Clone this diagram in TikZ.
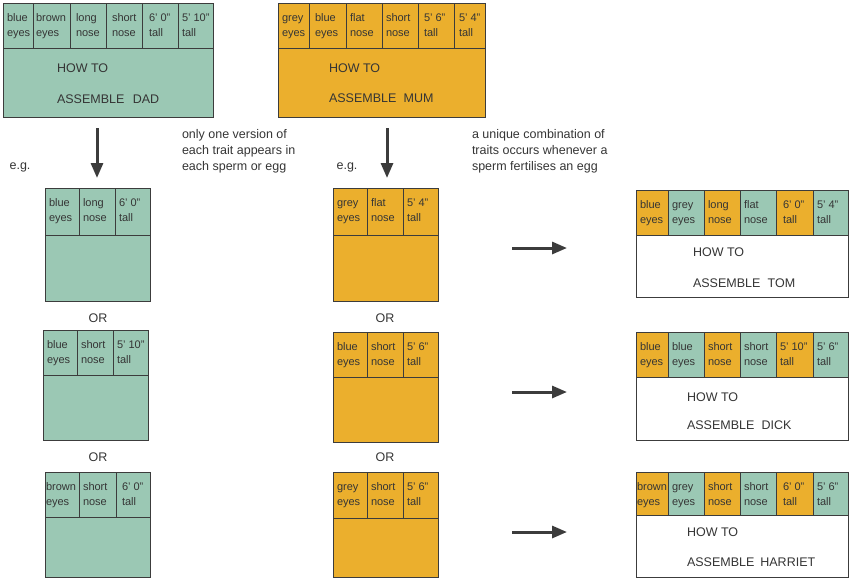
\documentclass[tikz,border=0pt]{standalone}
\usepackage{fontspec}
\setmainfont{Liberation Sans}
\usetikzlibrary{arrows.meta}
\definecolor{gr}{HTML}{9BC8B4}
\definecolor{og}{HTML}{EBAF2D}
\definecolor{edge}{HTML}{3C3C3C}
\definecolor{txt}{HTML}{353535}
\tikzset{
  frame/.style={draw=edge, line width=1pt, inner sep=0pt, outer sep=0pt, rectangle},
  celltxt/.style={anchor=base west, inner sep=0pt, outer sep=0pt, text=txt, font=\fontsize{11}{13}\selectfont},
  big/.style={inner sep=0pt, outer sep=0pt, text=txt, font=\fontsize{12.5}{16}\selectfont},
  para/.style={big, align=left, anchor=north west},
  bigarrow/.style={draw=edge, line width=3pt, -{Triangle[length=15pt,width=12pt]}},
}
% frame: name x1 y1 x2 y2 fill
\newcommand{\gframe}[6]{%
  \node[frame, fill=#6, minimum width={#4pt-#2pt}, minimum height={#5pt-#3pt}, anchor=north west] (#1) at (#2,#3) {};}
% cell: [inset] name x1 x2 y1 y2 fill line1 line2
\newcommand{\gcell}[9][4]{%
  \node[frame, fill=#7, minimum width={#4pt-#3pt}, minimum height={#6pt-#5pt}, anchor=north west] (#2) at (#3,#5) {};
  \node[celltxt] (#2-a) at ([xshift=#1pt,yshift=-18pt]#2.north west) {#8};
  \node[celltxt] (#2-b) at ([xshift=#1pt,yshift=-33pt]#2.north west) {#9};}
\begin{document}
\begin{tikzpicture}[x=1pt,y=-1pt]
\useasboundingbox (0,0) rectangle (850,579);
% ---------------- DAD
\gframe{dad}{3}{3}{213}{117}{gr}
\gcell{dad1}{3}{33}{3}{48}{gr}{blue}{eyes}
\gcell[3]{dad2}{33}{70}{3}{48}{gr}{brown}{eyes}
\gcell[6]{dad3}{70}{106}{3}{48}{gr}{long}{nose}
\gcell[6]{dad4}{106}{142}{3}{48}{gr}{short}{nose}
\gcell[7]{dad5}{142}{178}{3}{48}{gr}{6' 0"}{tall}
\gcell{dad6}{178}{213}{3}{48}{gr}{5' 10"}{tall}
\node[big, anchor=west] (dadh) at (57,68) {HOW TO};
\node[big, anchor=west] (dadn) at (57,99) {ASSEMBLE\hspace{0.4em} DAD};
% ---------------- MUM
\gframe{mum}{278}{3}{485}{117}{og}
\gcell{mum1}{278}{309}{3}{48}{og}{grey}{eyes}
\gcell[6]{mum2}{309}{346}{3}{48}{og}{blue}{eyes}
\gcell{mum3}{346}{382}{3}{48}{og}{flat}{nose}
\gcell{mum4}{382}{418}{3}{48}{og}{short}{nose}
\gcell[6]{mum5}{418}{454}{3}{48}{og}{5' 6"}{tall}
\gcell[5]{mum6}{454}{485}{3}{48}{og}{5' 4"}{tall}
\node[big, anchor=west] (mumh) at (329,68) {HOW TO};
\node[big, anchor=west] (mumn) at (329,98) {ASSEMBLE\hspace{0.3em} MUM};
% ---------------- arrows down and notes
\coordinate (da1) at (97,128); \coordinate (da2) at (97,178);
\coordinate (ma1) at (387,128); \coordinate (ma2) at (387,178);
\draw[bigarrow] (da1) -- (da2);
\draw[bigarrow] (ma1) -- (ma2);
\node[big] (eg1) at (20,167) {e.g.};
\node[big] (eg2) at (347,167) {e.g.};
\node[para] (note1) at (182,129) {only one version of\\each trait appears in\\each sperm or egg};
\node[para] (note2) at (472,129) {a unique combination of\\traits occurs whenever a\\sperm fertilises an egg};
% ---------------- DAD gametes
\gframe{dg1}{45}{188}{150}{301}{gr}
\gcell{dg1a}{45}{79}{188}{235}{gr}{blue}{eyes}
\gcell{dg1b}{79}{115}{188}{235}{gr}{long}{nose}
\gcell{dg1c}{115}{150}{188}{235}{gr}{6' 0"}{tall}
\node[big] (or1) at (98,318) {OR};
\gframe{dg2}{43}{330}{148}{440}{gr}
\gcell{dg2a}{43}{77}{330}{375}{gr}{blue}{eyes}
\gcell{dg2b}{77}{113}{330}{375}{gr}{short}{nose}
\gcell{dg2c}{113}{148}{330}{375}{gr}{5' 10"}{tall}
\node[big] (or2) at (98,457) {OR};
\gframe{dg3}{45}{472}{150}{577}{gr}
\gcell[1]{dg3a}{45}{79}{472}{517}{gr}{brown}{eyes}
\gcell{dg3b}{79}{116}{472}{517}{gr}{short}{nose}
\gcell[6]{dg3c}{116}{150}{472}{517}{gr}{6' 0"}{tall}
% ---------------- MUM gametes
\gframe{mg1}{333}{188}{438}{301}{og}
\gcell{mg1a}{333}{367}{188}{235}{og}{grey}{eyes}
\gcell{mg1b}{367}{403}{188}{235}{og}{flat}{nose}
\gcell{mg1c}{403}{438}{188}{235}{og}{5' 4"}{tall}
\node[big] (or3) at (385,318) {OR};
\gframe{mg2}{333}{332}{438}{442}{og}
\gcell{mg2a}{333}{367}{332}{377}{og}{blue}{eyes}
\gcell{mg2b}{367}{403}{332}{377}{og}{short}{nose}
\gcell{mg2c}{403}{438}{332}{377}{og}{5' 6"}{tall}
\node[big] (or4) at (385,457) {OR};
\gframe{mg3}{333}{472}{438}{577}{og}
\gcell{mg3a}{333}{367}{472}{518}{og}{grey}{eyes}
\gcell{mg3b}{367}{403}{472}{518}{og}{short}{nose}
\gcell{mg3c}{403}{438}{472}{518}{og}{5' 6"}{tall}
% ---------------- right arrows
\coordinate (ra1) at (512,248); \coordinate (rb1) at (567,248);
\coordinate (ra2) at (512,392); \coordinate (rb2) at (567,392);
\coordinate (ra3) at (512,532); \coordinate (rb3) at (567,532);
\draw[bigarrow] (ra1) -- (rb1);
\draw[bigarrow] (ra2) -- (rb2);
\draw[bigarrow] (ra3) -- (rb3);
% ---------------- TOM
\gframe{tom}{636}{190}{848}{297}{white}
\gcell{tom1}{636}{668}{190}{235}{og}{blue}{eyes}
\gcell{tom2}{668}{704}{190}{235}{gr}{grey}{eyes}
\gcell{tom3}{704}{740}{190}{235}{og}{long}{nose}
\gcell{tom4}{740}{776}{190}{235}{gr}{flat}{nose}
\gcell[7]{tom5}{776}{813}{190}{235}{og}{6' 0"}{tall}
\gcell{tom6}{813}{848}{190}{235}{gr}{5' 4"}{tall}
\node[big, anchor=west] (tomh) at (693,252) {HOW TO};
\node[big, anchor=west] (tomn) at (693,283) {ASSEMBLE\hspace{0.3em} TOM};
% ---------------- DICK
\gframe{dick}{636}{332}{848}{440}{white}
\gcell{dick1}{636}{668}{332}{377}{og}{blue}{eyes}
\gcell{dick2}{668}{704}{332}{377}{gr}{blue}{eyes}
\gcell{dick3}{704}{740}{332}{377}{og}{short}{nose}
\gcell{dick4}{740}{776}{332}{377}{gr}{short}{nose}
\gcell{dick5}{776}{813}{332}{377}{og}{5' 10"}{tall}
\gcell{dick6}{813}{848}{332}{377}{gr}{5' 6"}{tall}
\node[big, anchor=west] (dickh) at (687,397) {HOW TO};
\node[big, anchor=west] (dickn) at (687,425) {ASSEMBLE\hspace{0.3em} DICK};
% ---------------- HARRIET
\gframe{harriet}{636}{472}{848}{577}{white}
\gcell[1]{har1}{636}{668}{472}{515}{og}{brown}{eyes}
\gcell{har2}{668}{704}{472}{515}{gr}{grey}{eyes}
\gcell{har3}{704}{740}{472}{515}{og}{short}{nose}
\gcell{har4}{740}{776}{472}{515}{gr}{short}{nose}
\gcell[7]{har5}{776}{813}{472}{515}{og}{6' 0"}{tall}
\gcell{har6}{813}{848}{472}{515}{gr}{5' 6"}{tall}
\node[big, anchor=west] (harh) at (687,532) {HOW TO};
\node[big, anchor=west] (harn) at (687,562) {ASSEMBLE\hspace{0.2em} HARRIET};
\end{tikzpicture}
\end{document}
